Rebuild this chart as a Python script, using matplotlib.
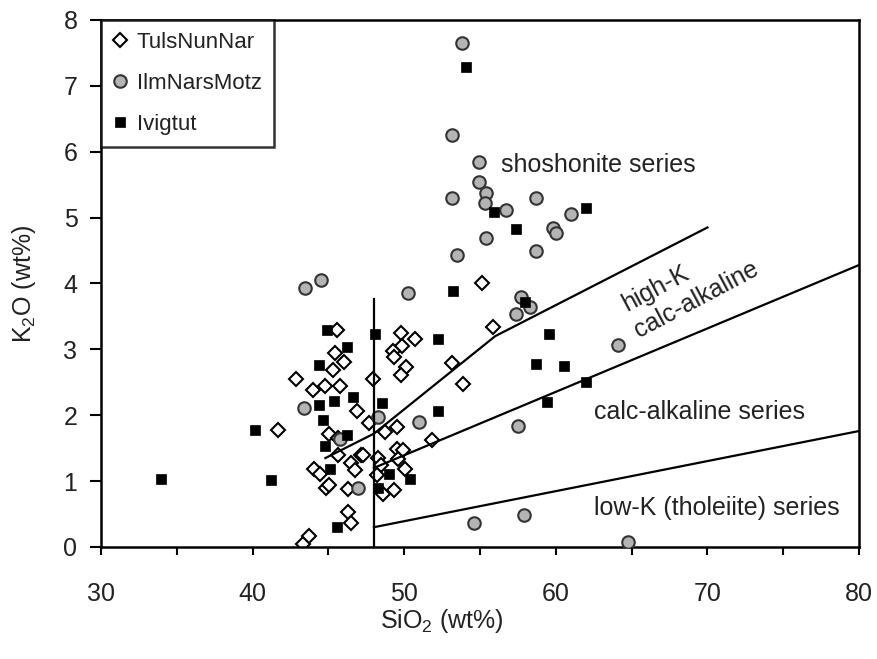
import matplotlib.pyplot as plt

plt.rcParams['font.family'] = ['Liberation Sans', 'DejaVu Sans']
plt.rcParams['mathtext.default'] = 'regular'

# TulsNunNar (open diamonds)
tuls_x = [42.86, 45.55, 45.41, 46.03, 45.32, 43.98, 44.76, 45.74, 46.87, 47.94,
          49.79, 50.68, 49.83, 49.27, 49.32, 50.13, 49.76, 55.1, 55.87, 53.13,
          53.85, 41.7, 43.3, 43.74, 46.3, 46.46, 44.84, 45.06, 46.3, 44.07,
          44.44, 46.46, 46.75, 47.15, 45.65, 45.03, 45.6, 47.7, 48.73, 49.5,
          47.3, 48.3, 49.5, 49.94, 49.6, 50.06, 48.5, 48.18, 48.63, 49.35, 51.8]
tuls_y = [2.55, 3.30, 2.95, 2.81, 2.68, 2.38, 2.45, 2.44, 2.07, 2.55,
          3.25, 3.15, 3.05, 2.98, 2.88, 2.73, 2.61, 4.01, 3.34, 2.79,
          2.47, 1.78, 0.05, 0.16, 0.53, 0.37, 0.89, 0.94, 0.88, 1.19,
          1.11, 1.28, 1.17, 1.40, 1.40, 1.72, 1.65, 1.88, 1.75, 1.82,
          1.40, 1.35, 1.49, 1.47, 1.34, 1.19, 1.24, 1.09, 0.80, 0.87, 1.62]

# IlmNarsMotz (grey circles)
ilm_x = [53.79, 53.17, 54.91, 54.91, 55.4, 55.33, 56.7, 53.17, 58.67, 60.98,
         59.8, 60.0, 55.4, 53.5, 58.7, 57.4, 57.7, 58.3, 64.1, 43.45,
         44.5, 50.25, 43.36, 48.3, 51.0, 57.5, 54.6, 57.9, 64.75, 46.97, 45.76]
ilm_y = [7.65, 6.25, 5.85, 5.54, 5.37, 5.22, 5.12, 5.29, 5.29, 5.05,
         4.84, 4.77, 4.69, 4.43, 4.49, 3.54, 3.80, 3.64, 3.07, 3.93,
         4.05, 3.86, 2.11, 1.97, 1.90, 1.83, 0.37, 0.48, 0.07, 0.90, 1.64]

# Ivigtut (black squares)
ivi_x = [33.96, 40.16, 41.2, 44.36, 44.93, 46.25, 44.35, 45.37, 46.65, 44.66,
         44.78, 46.25, 45.1, 45.54, 48.1, 48.56, 48.3, 49.0, 50.4, 52.2,
         52.2, 53.2, 54.06, 55.95, 57.4, 57.97, 59.57, 58.7, 60.56, 62.0,
         59.4, 62.0]
ivi_y = [1.03, 1.77, 1.01, 2.76, 3.29, 3.03, 2.15, 2.22, 2.27, 1.93,
         1.53, 1.70, 1.19, 0.31, 3.23, 2.18, 0.90, 1.11, 1.03, 2.07,
         3.16, 3.89, 7.28, 5.09, 4.83, 3.72, 3.23, 2.77, 2.74, 2.50,
         2.20, 5.15]

# series boundary lines
shosh_x = [44.8, 48, 56, 70]
shosh_y = [1.35, 1.72, 3.2, 4.85]
highk_x = [48, 80]
highk_y = [1.2, 4.28]
lowk_x = [48, 80]
lowk_y = [0.3, 1.76]
vert_x = [48, 48]
vert_y = [0, 3.77]

fig = plt.figure(figsize=(8.77, 6.59), dpi=100)
ax = fig.add_axes([0.1152, 0.170, 0.8643, 0.7997])

ax.plot(tuls_x, tuls_y, 'D', ms=7.5, mfc='white', mec='black', mew=1.5,
        label='TulsNunNar', zorder=2)
ax.plot(ilm_x, ilm_y, 'o', ms=9, mfc='#b4b4b4', mec='#333333', mew=1.5,
        label='IlmNarsMotz', zorder=3)
for lx, ly in [(shosh_x, shosh_y), (highk_x, highk_y), (lowk_x, lowk_y), (vert_x, vert_y)]:
    ax.plot(lx, ly, color='black', lw=1.6, zorder=4)
ax.plot(ivi_x, ivi_y, 's', ms=6.5, mfc='black', mec='black', mew=0.5,
        label='Ivigtut', zorder=5)

txt = dict(fontsize=18, color='#222222')
ax.text(56.4, 5.8, 'shoshonite series', ha='left', va='center', **txt)
ax.text(66.6, 3.93, 'high-K', ha='center', va='center', rotation=28, **txt)
ax.text(69.3, 3.75, 'calc-alkaline', ha='center', va='center', rotation=28, **txt)
ax.text(69.5, 2.05, 'calc-alkaline series', ha='center', va='center', **txt)
ax.text(70.6, 0.59, 'low-K (tholeiite) series', ha='center', va='center', **txt)

ax.set_xlim(30, 80)
ax.set_ylim(0, 8)
ax.set_xticks(range(30, 81, 10))
ax.set_xticks(range(35, 80, 10), minor=True)
ax.set_yticks(range(0, 9))
ax.tick_params(axis='both', which='both', direction='out', width=1.5,
               labelsize=18, labelcolor='#222222')
ax.tick_params(axis='x', which='both', length=6, pad=19)
ax.tick_params(axis='y', length=8, pad=9)
for s in ax.spines.values():
    s.set_linewidth(1.8)

ax.set_xlabel('SiO$_2$ (wt%)', fontsize=18, color='#222222')
ax.set_ylabel('K$_2$O (wt%)', fontsize=18, color='#222222')
ax.xaxis.set_label_coords(0.449, -0.113)
ax.yaxis.set_label_coords(-0.083, 0.5)

leg = ax.legend(loc='upper left', fontsize=16, frameon=True, fancybox=False,
                borderaxespad=0, handlelength=0.6, handletextpad=0.45,
                labelspacing=0.9, borderpad=0.55)
leg.get_frame().set_edgecolor('black')
leg.get_frame().set_linewidth(1.8)
for t in leg.get_texts():
    t.set_color('#222222')

fig.savefig('out.png', dpi=100)
